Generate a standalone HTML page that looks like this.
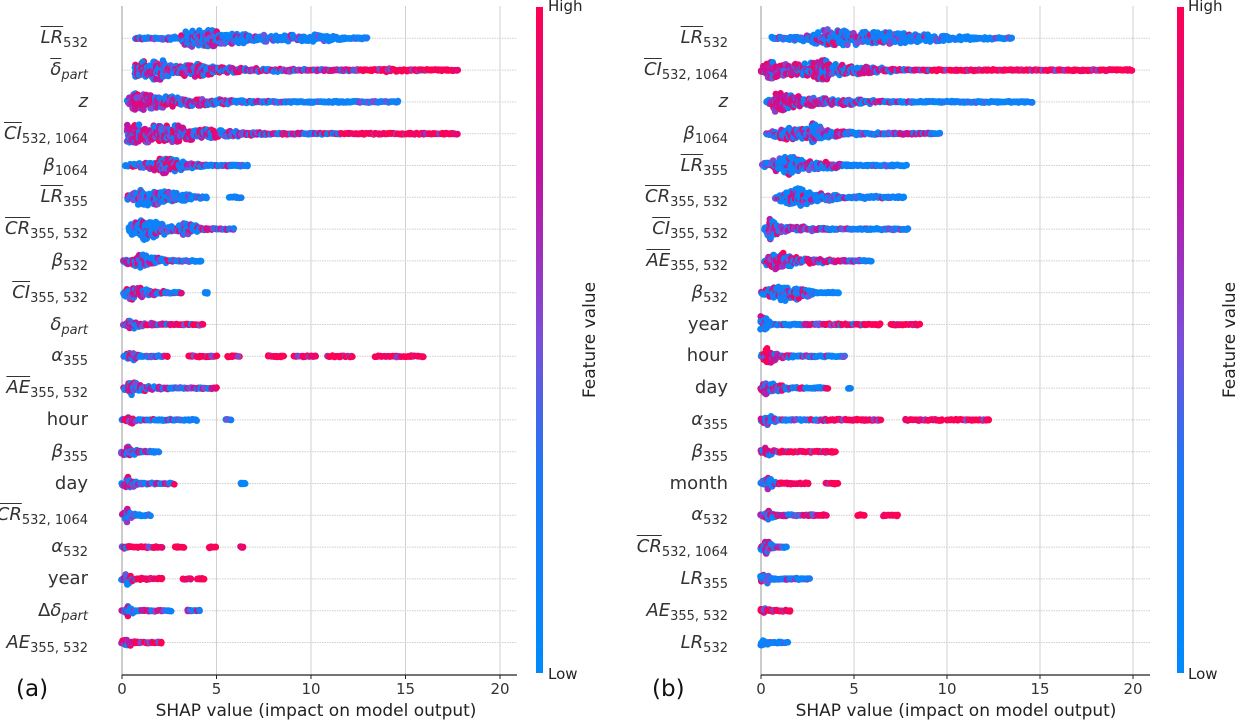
<!DOCTYPE html>
<html><head><meta charset="utf-8">
<style>
body{margin:0;background:#fff;width:1235px;height:722px;overflow:hidden;position:relative;font-family:"DejaVu Sans","Liberation Sans",sans-serif;color:#333}
.lbl{position:absolute;font-size:18px;white-space:nowrap;text-align:right;line-height:20px;color:#333}
.lbl i{font-style:italic}
.lbl sub{font-size:13px;vertical-align:-4px;line-height:0}
.ov{text-decoration:overline}
.tick{position:absolute;font-size:15px;color:#333;transform:translateX(-50%)}
.title{position:absolute;font-size:17px;color:#222;white-space:nowrap;transform:translateX(-50%)}
.cb{position:absolute;font-size:15px;color:#222}
.fv{position:absolute;font-size:17px;color:#222;transform:rotate(-90deg);transform-origin:center;white-space:nowrap}
.pl{position:absolute;font-size:23px;color:#111}
</style></head><body>
<svg id="chart" width="1235" height="722" style="position:absolute;left:0;top:0">
<defs><linearGradient id="cbg" x1="0" y1="1" x2="0" y2="0">
<stop offset="0" stop-color="#008afb"/><stop offset="0.3" stop-color="#1c78f5"/><stop offset="0.5" stop-color="#7a4fd9"/><stop offset="0.75" stop-color="#c2139f"/><stop offset="1" stop-color="#ff0052"/></linearGradient></defs>
</svg>
<script>
// ---- data: panel (a) feature names and swarm profiles: [shapValue, halfDensity, highFraction]
const labelsA=['<i class="ov">LR</i><sub>532</sub>','<i class="ov">δ</i><sub><i>part</i></sub>','<i>z</i>','<i class="ov">CI</i><sub>532, 1064</sub>','<i>β</i><sub>1064</sub>','<i class="ov">LR</i><sub>355</sub>','<i class="ov">CR</i><sub>355, 532</sub>','<i>β</i><sub>532</sub>','<i class="ov">CI</i><sub>355, 532</sub>','<i>δ</i><sub><i>part</i></sub>','<i>α</i><sub>355</sub>','<i class="ov">AE</i><sub>355, 532</sub>','hour','<i>β</i><sub>355</sub>','day','<i class="ov">CR</i><sub>532, 1064</sub>','<i>α</i><sub>532</sub>','year','Δ<i>δ</i><sub><i>part</i></sub>','<i>AE</i><sub>355, 532</sub>'];
const swarmA=[
[[0.7,4,0.1],[3,5,0.2],[3.5,12,0.35],[5,11,0.3],[6.5,8,0.2],[8,6,0.1],[10.5,7,0.05],[12,4,0],[13,3,0]],
[[0.7,10,0.4],[1,13,0.4],[2.2,13,0.45],[2.6,8,0.5],[4,10,0.5],[5,6,0.6],[8,5,0.55],[10,4,0.7],[12.5,3,0.9],[14,5,0.95],[16,4,0.95],[17.8,3,1]],
[[0.3,6,0.8],[0.7,13,0.8],[1.5,10,0.75],[3,8,0.6],[5,6,0.4],[7.5,4,0.2],[8,4,0.05],[11,4,0],[12.5,3,0],[14.7,3,0]],
[[0.3,13,0.7],[2,12,0.7],[3,12,0.6],[4,8,0.5],[6,6,0.5],[8,4,0.6],[10,3,0.5],[12,4,1],[16,3,1],[17.8,3,1]],
[[0.2,4,0.4],[1.5,7,0.5],[2.2,12,0.5],[3,8,0.4],[4,5,0.3],[5,4,0.1],[6.7,4,0]],
[[0.3,6,0.2],[1,12,0.25],[2.5,9,0.3],[4.5,4,0.15],[4.6,0,0],[5.6,0,0],[5.7,4,0],[6.3,3,0]],
[[0.4,8,0.15],[1.2,14,0.2],[2,10,0.2],[2.8,5,0.2],[3.3,9,0.3],[4.5,5,0.5],[6,3,0.6]],
[[0.1,5,0.4],[1,10,0.45],[2,6,0.4],[2.8,4,0.3],[4.2,3,0]],
[[0.1,6,0.5],[0.5,10,0.5],[1.5,6,0.4],[3.2,3,0.5],[3.3,0,0],[4.4,0,0],[4.4,3,0],[4.6,3,0]],
[[0.1,5,0.5],[0.4,9,0.5],[1,5,0.7],[4.3,3,1]],
[[0.1,4,0.4],[0.4,9,0.3],[1,4,0.1],[1.9,3,0.1],[2.4,3,1],[2.5,0,0],[3.4,0,0],[3.5,3,1],[5.1,3,1],[5.2,0,0],[5.5,0,0],[5.6,3,1],[6.2,3,1],[6.3,0,0],[7.6,0,0],[7.7,3,1],[8.6,3,1],[8.7,0,0],[9,0,0],[9.1,3,1],[10.3,3,1],[10.4,0,0],[10.8,0,0],[10.9,3,1],[12.2,3,1],[12.3,0,0],[13.3,0,0],[13.4,3,1],[16,3,1]],
[[0.1,5,0.5],[0.5,10,0.5],[1.5,5,0.5],[3,4,0.6],[5,3,0.7]],
[[0,4,0.8],[0.3,8,0.9],[1,4,0.5],[1.5,3,0.1],[4,3,0],[4.1,0,0],[5.4,0,0],[5.5,3,0],[5.8,3,0]],
[[0,5,0.8],[0.3,9,0.7],[1,4,0.4],[2,3,0.1]],
[[0,5,0.6],[0.3,10,0.6],[1,3,0.2],[2.5,3,0.3],[2.8,2,0.6],[2.9,0,0],[6.2,0,0],[6.3,4,0],[6.6,4,0]],
[[0,5,0.5],[0.3,10,0.3],[0.8,4,0.1],[1.6,4,0]],
[[0,6,0.5],[0.4,3,0.9],[2.2,3,1],[2.3,0,0],[2.7,0,0],[2.8,3,1],[3.3,3,1],[3.4,0,0],[4.5,0,0],[4.6,3,1],[5,3,1],[5.1,0,0],[6.2,0,0],[6.3,3,1],[6.5,3,1]],
[[0,4,0.3],[0.3,9,0.3],[0.7,3,0.9],[2.2,3,1],[2.3,0,0],[3.1,0,0],[3.2,3,1],[3.7,3,1],[3.8,0,0],[3.9,0,0],[4,3,1],[4.4,3,1]],
[[0,4,0.4],[0.3,9,0.4],[0.8,3,0.1],[1.2,3,0.8],[2.6,3,0.5],[2.7,0,0],[3.4,0,0],[3.5,3,0.7],[4.1,3,0]],
[[0,5,0.6],[0.3,8,0.7],[0.8,3,0.9],[2.1,3,1]]];
// ---- data: panel (b)
const labelsB=['<i class="ov">LR</i><sub>532</sub>','<i class="ov">CI</i><sub>532, 1064</sub>','<i>z</i>','<i>β</i><sub>1064</sub>','<i class="ov">LR</i><sub>355</sub>','<i class="ov">CR</i><sub>355, 532</sub>','<i class="ov">CI</i><sub>355, 532</sub>','<i class="ov">AE</i><sub>355, 532</sub>','<i>β</i><sub>532</sub>','year','hour','day','<i>α</i><sub>355</sub>','<i>β</i><sub>355</sub>','month','<i>α</i><sub>532</sub>','<i class="ov">CR</i><sub>532, 1064</sub>','<i>LR</i><sub>355</sub>','<i>AE</i><sub>355, 532</sub>','<i>LR</i><sub>532</sub>'];
const swarmB=[
[[0.6,5,0.05],[2.5,6,0.1],[3.5,13,0.35],[5,10,0.3],[7,9,0.15],[9,7,0.05],[11,5,0],[13.5,4,0]],
[[0,5,0.8],[0.3,12,0.8],[2,9,0.7],[3.3,14,0.6],[4,9,0.5],[6,6,0.6],[8,4,0.7],[10,3,1],[14,3,1],[20,3,1]],
[[0.3,4,0.6],[0.8,13,0.85],[1.5,10,0.8],[3,7,0.6],[5,6,0.4],[7,4,0.1],[10,3,0],[13.5,3,0],[14.6,3,0]],
[[0.3,4,0.3],[1.5,10,0.4],[2.5,8,0.3],[2.8,14,0.2],[3.5,7,0.3],[5,5,0.4],[7,4,0.2],[7.5,3,0.8],[9.7,3,0.3]],
[[0.1,5,0.2],[1.5,13,0.3],[2.5,8,0.3],[4,6,0.5],[5,4,0],[7.9,4,0]],
[[0.8,6,0.2],[1.5,10,0.2],[2,13,0.25],[3,8,0.3],[4.5,5,0.1],[7.8,4,0]],
[[0.2,6,0.3],[0.5,14,0.6],[1,7,0.5],[4,4,0.3],[6,4,0.05],[7.9,4,0]],
[[0.2,6,0.6],[0.8,13,0.7],[2,7,0.7],[4.5,4,0.7],[6,3,0.3]],
[[0,5,0.4],[1.3,12,0.4],[2.5,8,0.4],[3,4,0.1],[4.2,3,0]],
[[0,12,0.25],[0.3,12,0.25],[0.5,4,0.2],[2,3,0.1],[2.5,3,0.8],[6.5,3,1],[6.6,0,0],[6.9,0,0],[7,3,1],[8.6,3,1]],
[[0,6,0.9],[0.3,12,0.95],[1,5,0.6],[2,4,0.1],[4.6,3,0]],
[[0,5,0.6],[0.3,10,0.5],[1,6,0.4],[2.5,3,0.4],[3.6,3,0.6],[3.7,0,0],[4.7,0,0],[4.7,3,0],[4.9,3,0]],
[[0,5,0.5],[0.4,9,0.4],[1,4,0.1],[3,3,0.1],[3.5,3,0.9],[6.5,3,1],[6.6,0,0],[7.7,0,0],[7.8,4,1],[9.8,4,1],[9.9,0,0],[9.9,0,0],[10,3,1],[12.3,3,1]],
[[0,5,0.5],[0.3,8,0.6],[1,3,0.9],[3.5,3,1],[4,3,1]],
[[0,6,0.3],[0.4,9,0.3],[1,3,0.9],[2.6,3,1],[2.7,0,0],[3.4,0,0],[3.5,3,1],[4.2,3,1]],
[[0,6,0.4],[0.4,8,0.5],[1,3,0.5],[3.5,3,0.9],[3.6,0,0],[5.1,0,0],[5.2,3,1],[5.6,3,1],[5.7,0,0],[6.5,0,0],[6.6,3,1],[7.4,3,1]],
[[0,6,0.4],[0.3,10,0.4],[0.8,3,0.3],[1.4,3,0.3]],
[[0,6,0.4],[0.2,9,0.4],[0.7,3,0.2],[2.7,3,0]],
[[0,7,0.9],[0.2,7,0.8],[0.6,3,0.9],[1.6,3,1]],
[[0,7,0.2],[0.2,8,0.2],[0.5,3,0.1],[1.5,3,0]]];
const xTicks=[0,5,10,15,20];

const NS='http://www.w3.org/2000/svg';
const svg=document.getElementById('chart');
const rowY=i=>38.3+31.8*i;
function mk(tag,attrs,parent){const e=document.createElementNS(NS,tag);for(const k in attrs)e.setAttribute(k,attrs[k]);(parent||svg).appendChild(e);return e;}
const stops=[[0,[0,138,251]],[0.3,[28,120,245]],[0.5,[122,79,217]],[0.75,[194,19,159]],[1,[255,0,82]]];
function col(t){t=Math.max(0,Math.min(1,t));for(let i=1;i<stops.length;i++){if(t<=stops[i][0]){const a=stops[i-1],b=stops[i];const u=(t-a[0])/(b[0]-a[0]);const c=a[1].map((v,k)=>Math.round(v+(b[1][k]-v)*u));return 'rgb('+c.join(',')+')';}}return 'rgb(255,0,82)';}
function hash(a,b,c){let h=(a*73856093)^(b*19349663)^(c*83492791);h=(h^(h>>>13))*1274126177;h=h^(h>>>16);return ((h>>>0)%10007)/10007;}

function panel(p){
  const g=mk('g',{});
  const X=v=>p.x0+v*p.k;
  xTicks.forEach(t=>{const l=mk('line',{x1:X(t),x2:X(t),y1:6,y2:675,stroke:'#d0d0d0','stroke-width':1},g);});
  p.swarm.forEach((r,i)=>{const l=mk('line',{x1:p.x0,x2:p.xr,y1:rowY(i),y2:rowY(i),stroke:'#cfcfcf','stroke-width':1,'stroke-dasharray':'1.5,1'},g);});
  const z=mk('line',{x1:p.x0,x2:p.x0,y1:6,y2:675,stroke:'#999','stroke-width':1},g);
  const ax=mk('line',{x1:p.x0,x2:p.xr,y1:675,y2:675,stroke:'#222','stroke-width':1.2},g);
  xTicks.forEach(t=>{const l=mk('line',{x1:X(t),x2:X(t),y1:675,y2:679,stroke:'#222'},g);
    const d=document.createElement('div');d.className='tick';d.style.left=X(t)+'px';d.style.top='680px';d.textContent=t;
    
    
    document.body.appendChild(d);});
  p.swarm.forEach((knots,i)=>{
    const rg=mk('g',{},g);
    const y0=rowY(i);let c=0;
    for(let s=0;s+1<knots.length;s++){
      const a=knots[s],b=knots[s+1];if(a[1]===0||b[1]===0)continue;
      const pa=X(a[0]),pb=X(b[0]);
      for(let px=pa;px<=pb+0.01;px+=2.2){
        const u=pb>pa?(px-pa)/(pb-pa):0;const h=a[1]+(b[1]-a[1])*u;const f=a[2]+(b[2]-a[2])*u;
        const span=Math.max(0.8,h-3.2);
        const k=Math.max(2,Math.round(span/1.6)+1);
        for(let j=0;j<k;j++){c++;
          const r1=hash(i+p.id*50,c,j+20);const r2=hash(c,i+p.id*50,j+40);const r3=hash(j+7,c+3,i+p.id*50);
          let t;if(r1<f)t=(f>0.85?0.85:0.65)+r2*0.35;else t=r2*0.28;
          if(r2<0.08)t=0.45+r2*2;
          const yy=y0+(r3*2-1)*span*(j%3===0?0.55:1);
          mk('circle',{cx:(px+(r2-0.5)*1.5).toFixed(1),cy:yy.toFixed(1),r:3.3,fill:col(t)},rg);
        }
      }
    }
  });
  p.labels.forEach((h,i)=>{const d=document.createElement('div');d.className='lbl';d.innerHTML=h;d.style.right=(1235-p.lx)+'px';d.style.top=(rowY(i)-10)+'px';
    
    
    document.body.appendChild(d);});
  const cb=mk('rect',{x:p.cbx,y:7,width:7,height:666,fill:'url(#cbg)'},g);
}
panel({id:0,name:'panel-a',x0:122,k:18.9,xr:517,swarm:swarmA,labels:labelsA,lx:88,cbx:536});
panel({id:1,name:'panel-b',x0:761,k:18.6,xr:1150,swarm:swarmB,labels:labelsB,lx:728,cbx:1177});
</script>
<div class="title" style="left:316px;top:701px">SHAP value (impact on model output)</div>
<div class="title" style="left:956px;top:701px">SHAP value (impact on model output)</div>
<div class="cb" style="left:548px;top:-3px">High</div>
<div class="cb" style="left:548px;top:665px">Low</div>
<div class="cb" style="left:1188px;top:-3px">High</div>
<div class="cb" style="left:1188px;top:665px">Low</div>
<div class="fv" style="left:532px;top:330px">Feature value</div>
<div class="fv" style="left:1172px;top:330px">Feature value</div>
<div class="pl" style="left:16px;top:676px">(a)</div>
<div class="pl" style="left:652px;top:676px">(b)</div>
</body></html>
